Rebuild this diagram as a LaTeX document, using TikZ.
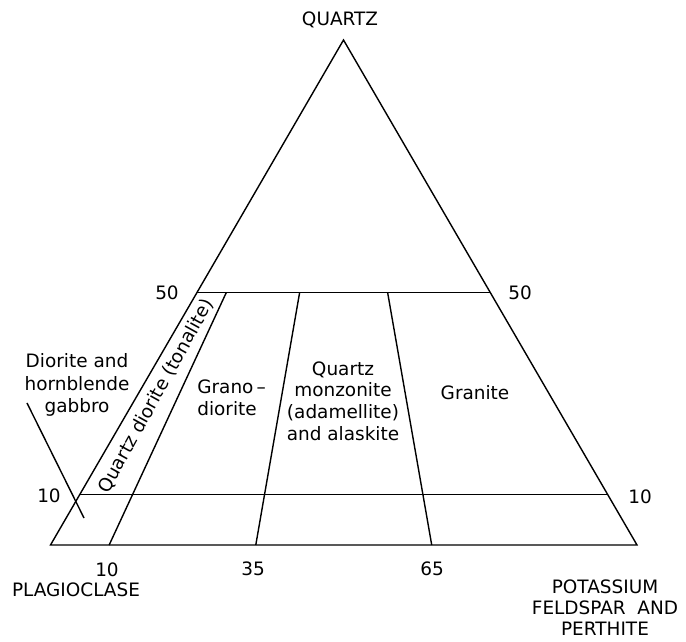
\documentclass[tikz,border=0pt]{standalone}
\usepackage{fontspec}
\setmainfont{DejaVu Sans}
\usetikzlibrary{calc}
\tikzset{lab/.style={inner sep=0pt, font=\fontsize{10.5}{12.4}\selectfont}}

\begin{document}
\begin{tikzpicture}
\useasboundingbox (0,0) rectangle (13.72,12.82);
% corners:
\coordinate (P) at (1.01,1.92);
\coordinate (K) at (12.74,1.92);
\coordinate (Q) at (6.87,12.02);
% quartz levels:
\coordinate (L50) at ($(P)!0.5!(Q)$);
\coordinate (R50) at ($(K)!0.5!(Q)$);
\coordinate (L10) at ($(P)!0.1!(Q)$);
\coordinate (R10) at ($(K)!0.1!(Q)$);
% ratio lines, bottom and top ends:
\coordinate (B10) at ($(P)!0.10!(K)$);
\coordinate (T10) at ($(L50)!0.10!(R50)$);
\coordinate (B35) at ($(P)!0.35!(K)$);
\coordinate (T35) at ($(L50)!0.35!(R50)$);
\coordinate (B65) at ($(P)!0.65!(K)$);
\coordinate (T65) at ($(L50)!0.65!(R50)$);
% pointer:
\coordinate (ptrtop) at (0.54,4.76);
\coordinate (ptrend) at (1.68,2.46);

\draw[thick] (P) -- (K) -- (Q) -- cycle;
\draw[thick] (L50) -- (R50);
\draw[thick] (L10) -- (R10);
\draw[thick] (B10) -- (T10);
\draw[thick] (B35) -- (T35);
\draw[thick] (B65) -- (T65);
\draw[thick] (ptrtop) -- (ptrend);

% corner labels:
\node[lab] (quartz) at (6.80,12.42) {QUARTZ};
\node[lab] (plag) at (1.52,1.03) {PLAGIOCLASE};
\node[lab, align=center, font=\fontsize{10.5}{11.9}\selectfont] (kspar) at (12.10,0.66) {POTASSIUM\\FELDSPAR\ \ AND\\PERTHITE};
% scale labels:
\node[lab] (lab50l) at (3.34,6.97) {50};
\node[lab] (lab50r) at (10.40,6.97) {50};
\node[lab] (lab10l) at (0.98,2.90) {10};
\node[lab] (lab10r) at (12.80,2.88) {10};
\node[lab] (lab10b) at (2.14,1.43) {10};
\node[lab] (lab35) at (5.06,1.44) {35};
\node[lab] (lab65) at (8.64,1.44) {65};
% fields:
\node[lab, align=center, font=\fontsize{10.5}{13}\selectfont] (diorite) at (1.54,5.12) {Diorite and\\hornblende\\gabbro};
\node[lab, rotate=61] (tonalite) at (3.12,4.90) {Quartz diorite (tonalite)};
\node[lab, align=left, anchor=west] (granodiorite) at (3.94,4.86) {Grano\,--\\diorite};
\node[lab, align=center] (monzonite) at (6.86,4.80) {Quartz\\monzonite\\(adamellite)\\and alaskite};
\node[lab] (granite) at (9.50,4.96) {Granite};
\end{tikzpicture}
\end{document}
